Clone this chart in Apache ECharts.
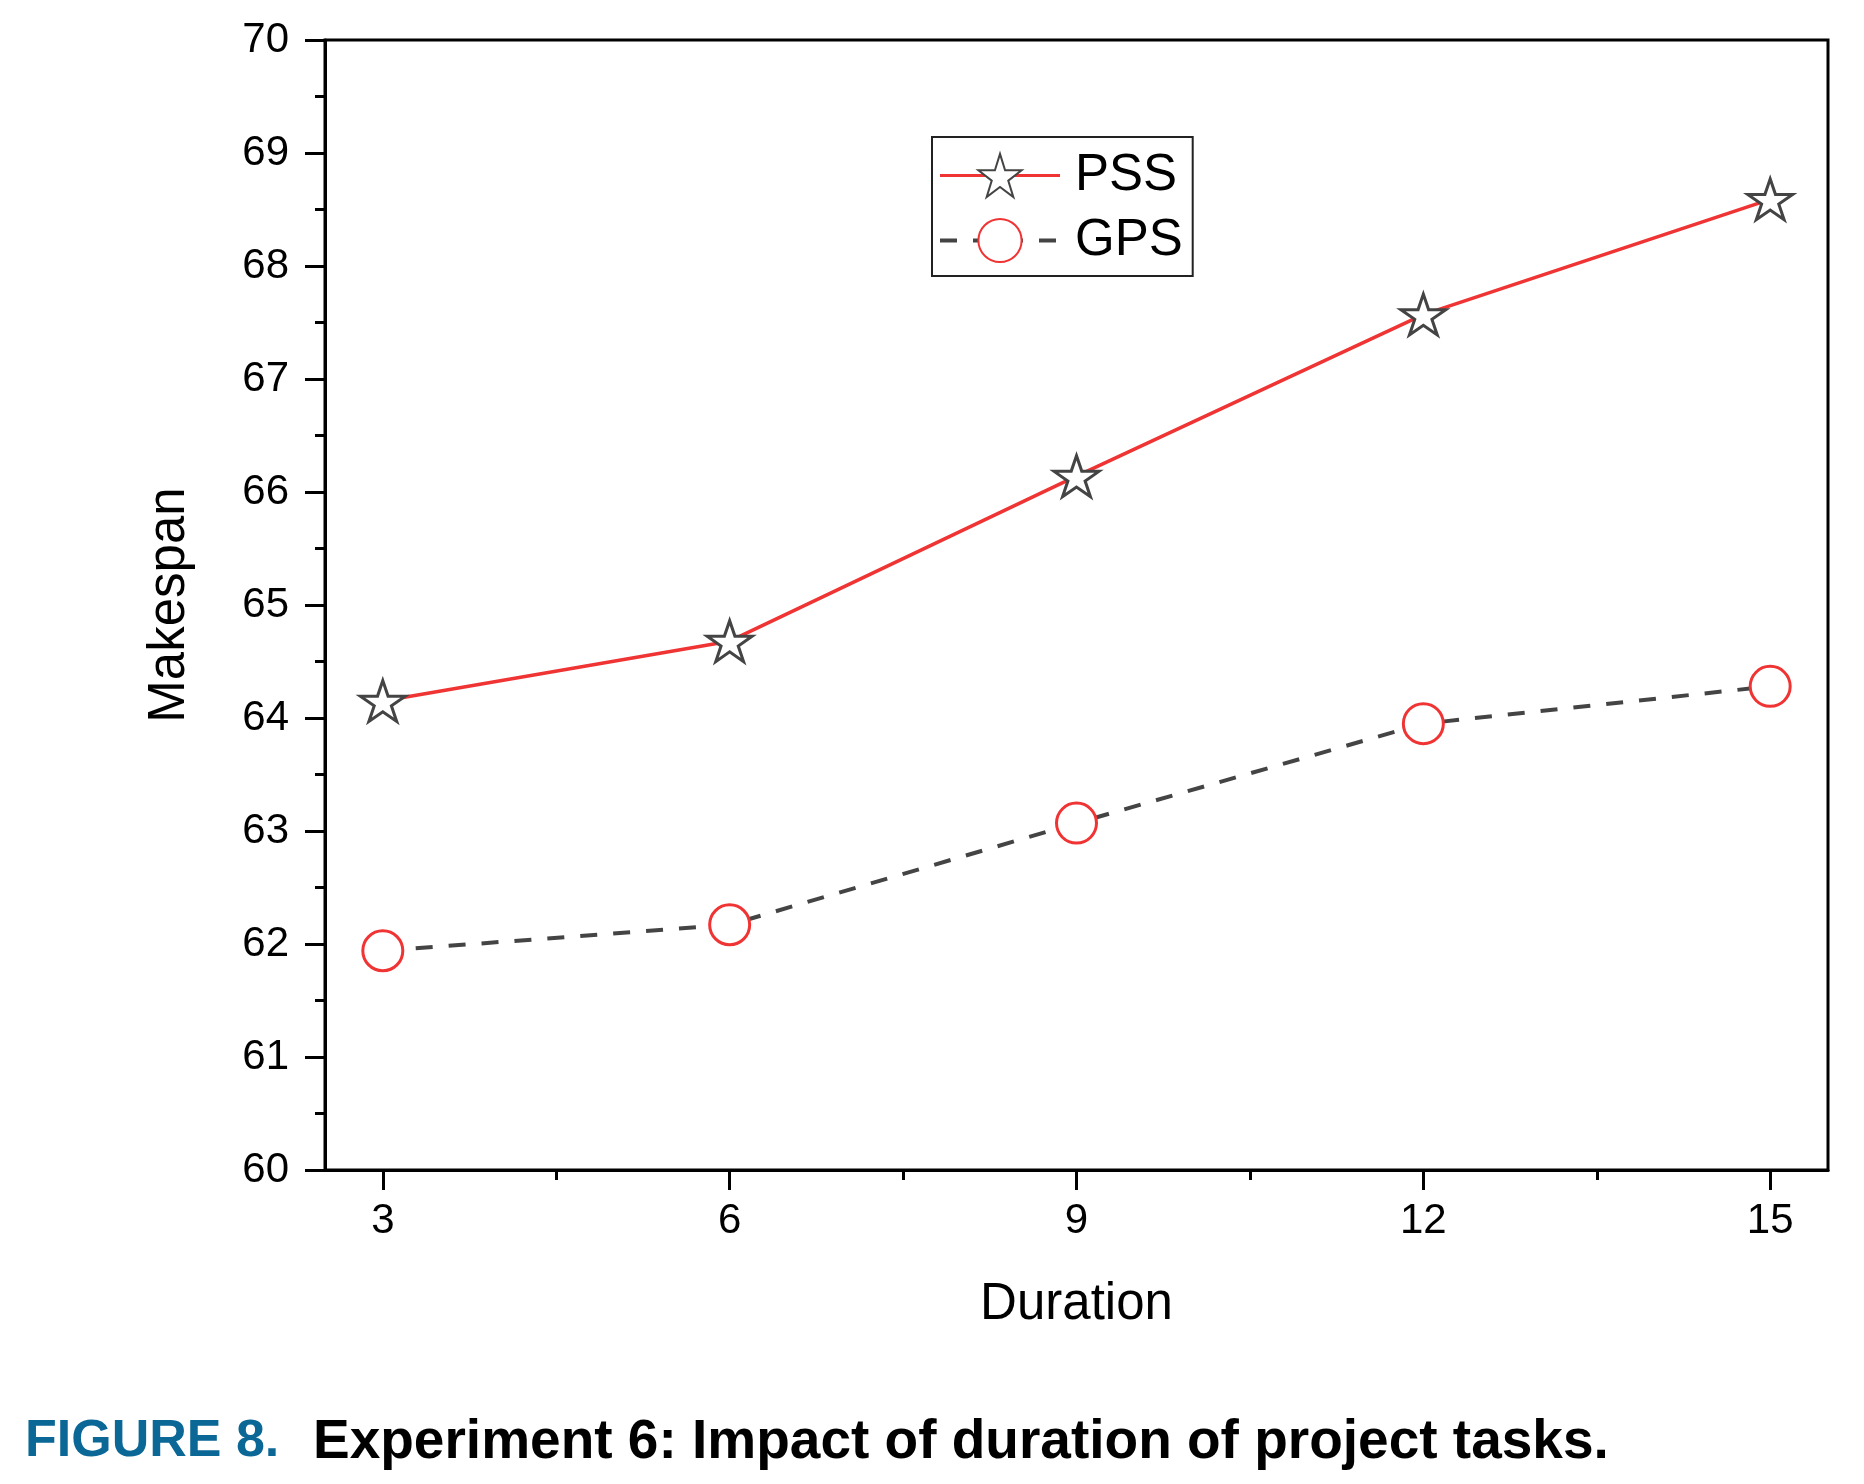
<!DOCTYPE html>
<html>
<head>
<meta charset="utf-8">
<title>Experiment 6</title>
<script src="https://cdn.jsdelivr.net/npm/echarts@6/dist/echarts.min.js"></script>
<style>
  html, body { margin: 0; padding: 0; background: #fff; }
  #main { width: 1864px; height: 1484px; }
</style>
</head>
<body>
<div id="main"></div>
<script>
// 数据
var durations = [3, 6, 9, 12, 15];
var pssValues = [64.15, 64.68, 66.14, 67.57, 68.59];
var gpsValues = [61.94, 62.17, 63.07, 63.95, 64.28];
var xTickValues = [3, 6, 9, 12, 15];
var xMinorTickValues = [4.5, 7.5, 10.5, 13.5];
var seriesNames = ['PSS', 'GPS'];

var font = "'Liberation Sans', Arial, sans-serif";
var red = '#f03434';
var grey = '#444';
var starPath = 'path://M50,0L61.2,34.5L97.6,34.5L68.2,55.9L79.4,90.5L50,69.1L20.6,90.5L31.8,55.9L2.4,34.5L38.8,34.5Z';

function pairs(ys) {
    return durations.map(function (x, i) { return [x, ys[i]]; });
}

var chart = echarts.init(document.getElementById('main'));

var option = {
    backgroundColor: '#fff',
    animation: false,
    grid: {
        left: 325,
        right: 36,
        top: 40,
        bottom: 314,
        show: true,
        borderColor: '#000',
        borderWidth: 3
    },
    legend: {
        left: 932,
        top: 137,
        orient: 'vertical',
        itemWidth: 120,
        itemHeight: 54,
        itemGap: 14,
        padding: [13, 10, 10, 6],
        borderColor: '#222',
        borderWidth: 2,
        textStyle: {
            fontFamily: font,
            fontSize: 51,
            color: '#000',
            padding: [0, 0, 0, 10]
        },
        data: [
            { name: seriesNames[0], lineStyle: { color: red, width: 3 } },
            { name: seriesNames[1], lineStyle: { color: grey, width: 4, type: [17, 16] } }
        ]
    },
    xAxis: [{
        type: 'value',
        min: 2.5,
        max: 15.5,
        name: 'Duration',
        nameLocation: 'middle',
        nameGap: 109,
        nameTextStyle: { fontFamily: font, fontSize: 51, color: '#000' },
        splitLine: { show: false },
        axisLine: { show: true, lineStyle: { color: '#000', width: 3 } },
        axisTick: { show: true, length: 20, lineStyle: { color: '#000', width: 3 }, customValues: xTickValues },
        axisLabel: { fontFamily: font, fontSize: 42, color: '#000', margin: 30, customValues: xTickValues }
    }, {
        type: 'value',
        min: 2.5,
        max: 15.5,
        position: 'bottom',
        splitLine: { show: false },
        axisLine: { show: false },
        axisTick: { show: true, length: 10, lineStyle: { color: '#000', width: 3 }, customValues: xMinorTickValues },
        axisLabel: { show: false }
    }],
    yAxis: {
        type: 'value',
        min: 60,
        max: 70,
        interval: 1,
        name: 'Makespan',
        nameLocation: 'middle',
        nameGap: 130,
        nameTextStyle: { fontFamily: font, fontSize: 51, color: '#000' },
        splitLine: { show: false },
        axisLine: { show: true, lineStyle: { color: '#000', width: 3 } },
        axisTick: { show: true, length: 20, lineStyle: { color: '#000', width: 3 } },
        minorTick: { show: true, splitNumber: 2, length: 10, lineStyle: { color: '#000', width: 3 } },
        axisLabel: { fontFamily: font, fontSize: 42, color: '#000', margin: 36 }
    },
    series: [{
        name: seriesNames[0],
        type: 'line',
        xAxisIndex: 0,
        data: pairs(pssValues),
        symbol: starPath,
        symbolSize: [45, 43],
        symbolKeepAspect: true,
        lineStyle: { color: red, width: 3.5 },
        itemStyle: { color: '#fff', borderColor: grey, borderWidth: 3 },
        z: 3
    }, {
        name: seriesNames[1],
        type: 'line',
        xAxisIndex: 0,
        data: pairs(gpsValues),
        symbol: 'circle',
        symbolSize: 40,
        lineStyle: { color: grey, width: 4, type: [17, 16] },
        itemStyle: { color: '#fff', borderColor: red, borderWidth: 3 },
        z: 2
    }],
    graphic: [{
        type: 'text',
        left: 25,
        top: 1416,
        style: {
            text: 'FIGURE 8.',
            fill: '#0a6796',
            font: 'bold 52px ' + font
        }
    }, {
        type: 'text',
        left: 313,
        top: 1415,
        style: {
            text: 'Experiment 6: Impact of duration of project tasks.',
            fill: '#000',
            font: 'bold 55px ' + font
        }
    }]
};

chart.setOption(option);
</script>
</body>
</html>
